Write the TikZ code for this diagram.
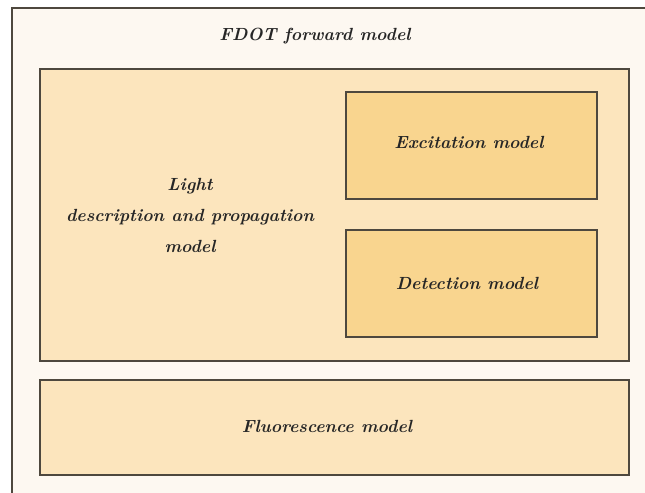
\documentclass[tikz,border=0pt]{standalone}
\begin{document}
\begin{tikzpicture}[x=0.5pt,y=-0.5pt,
  frame/.style={draw=framec, line width=1.1pt},
  lbl/.style={font=\bfseries\itshape\fontsize{8.8}{15.5}\selectfont, text=black!85, align=center},
  boxa/.style={frame, fill=lightbox},
  boxb/.style={frame, fill=darkbox}]
\definecolor{framec}{HTML}{4E483E}
\definecolor{outerbg}{HTML}{FDF8F1}
\definecolor{lightbox}{HTML}{FCE5BD}
\definecolor{darkbox}{HTML}{F9D58F}
\useasboundingbox (0,0) rectangle (645,493);
\clip (0,0) rectangle (645,493);
\fill[white] (0,0) rectangle (645,493);
\draw[frame, fill=outerbg] (12,8) rectangle (670,520);
\node[lbl] (title) at (315,36) {FDOT forward model};
\draw[boxa] (40,69) rectangle (629,361);
\node[lbl] (light) at (190,215) {Light\\description and propagation\\model};
\draw[boxb] (346,92) rectangle (597,199);
\node[lbl] (exc) at (469,142) {Excitation model};
\draw[boxb] (346,230) rectangle (597,337);
\node[lbl] (det) at (467,283) {Detection model};
\draw[boxa] (40,380) rectangle (629,475);
\node[lbl] (flu) at (327,426) {Fluorescence model};
\end{tikzpicture}
\end{document}
